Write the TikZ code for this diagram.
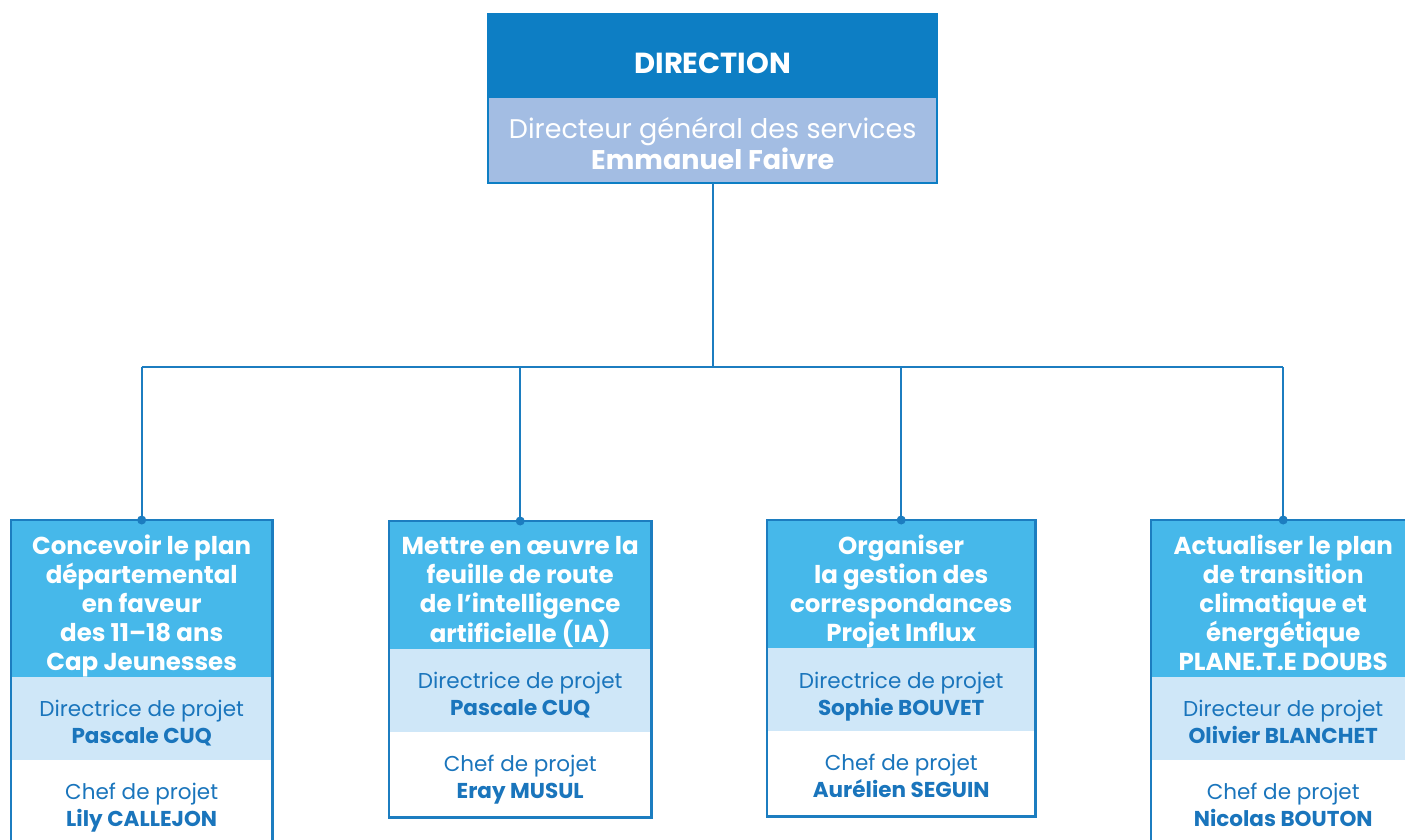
\documentclass[tikz,border=0pt]{standalone}
\usepackage{fontspec}
\setmainfont{Poppins}
\definecolor{darkB}{HTML}{0D7EC4}
\definecolor{paleB}{HTML}{A3BDE3}
\definecolor{cyanB}{HTML}{46B8EA}
\definecolor{lightB}{HTML}{CFE7F8}
\definecolor{textB}{HTML}{1A75BC}
\definecolor{lineB}{HTML}{1C7DC0}
\begin{document}
\begin{tikzpicture}[x=1pt,y=-1pt,
  band/.style={rectangle, inner sep=0pt, anchor=north west},
  txt/.style={inner sep=0pt, align=center},
  dirtxt/.style={txt, text=white, font=\fontsize{29}{31}\selectfont\bfseries, yshift=-7pt},
  dgstxt/.style={txt, text=white, font=\fontsize{27}{31}\selectfont, yshift=-3pt},
  hdrtxt/.style={txt, text=white, font=\fontsize{24.5}{29}\selectfont\bfseries, yshift=-7pt},
  subtxt/.style={txt, text=textB, font=\fontsize{21.5}{27}\selectfont, yshift=-4.5pt},
  lowtxt/.style={txt, text=textB, font=\fontsize{21.5}{27}\selectfont, yshift=-5pt},
  frame/.style={draw=lineB, line width=2.2pt},
  conn/.style={draw=lineB, line width=2pt},
  dot/.style={fill=lineB}
]
\useasboundingbox (0,0) rectangle (1405,839);
\clip (0,0) rectangle (1405,839);
% top box
\node[band, fill=darkB, minimum width=449pt, minimum height=84pt] (dir) at (488,14) {};
\node[band, fill=paleB, minimum width=449pt, minimum height=85pt] (dgs) at (488,98) {};
\draw[draw=darkB, line width=2pt] (dir.north west) rectangle (dgs.south east);
\node[dirtxt] (dirT) at (dir.center) {DIRECTION};
\node[dgstxt] (dgsT) at (dgs.center) {Directeur général des services\\\textbf{Emmanuel Faivre}};
% box 1
\node[band, fill=cyanB, minimum width=261pt, minimum height=157pt] (h1) at (11,520) {};
\node[band, fill=lightB, minimum width=261pt, minimum height=83pt] (s1) at (11,677) {};
\node[band, fill=white, minimum width=261pt, minimum height=85pt] (w1) at (11,760) {};
\draw[frame] (h1.north west) rectangle (w1.south east);
\node[hdrtxt] (h1T) at (h1.center) {Concevoir le plan\\départemental\\en faveur\\des 11–18 ans\\Cap Jeunesses};
\node[subtxt] (s1T) at (s1.center) {Directrice de projet\\\textbf{Pascale CUQ}};
\node[lowtxt] (w1T) at (w1.center) {Chef de projet\\\textbf{Lily CALLEJON}};
% box 2
\node[band, fill=cyanB, minimum width=262pt, minimum height=128pt] (h2) at (389,521) {};
\node[band, fill=lightB, minimum width=262pt, minimum height=83pt] (s2) at (389,649) {};
\node[band, fill=white, minimum width=262pt, minimum height=85pt] (w2) at (389,732) {};
\draw[frame] (h2.north west) rectangle (w2.south east);
\node[hdrtxt] (h2T) at (h2.center) {Mettre en œuvre la\\feuille de route\\de l’intelligence\\artificielle (IA)};
\node[subtxt] (s2T) at (s2.center) {Directrice de projet\\\textbf{Pascale CUQ}};
\node[lowtxt] (w2T) at (w2.center) {Chef de projet\\\textbf{Eray MUSUL}};
% box 3
\node[band, fill=cyanB, minimum width=268pt, minimum height=128pt] (h3) at (767,520) {};
\node[band, fill=lightB, minimum width=268pt, minimum height=83pt] (s3) at (767,648) {};
\node[band, fill=white, minimum width=268pt, minimum height=85pt] (w3) at (767,731) {};
\draw[frame] (h3.north west) rectangle (w3.south east);
\node[hdrtxt] (h3T) at (h3.center) {Organiser\\la gestion des\\correspondances\\Projet Influx};
\node[subtxt, yshift=-2pt] (s3T) at (s3.center) {Directrice de projet\\\textbf{Sophie BOUVET}};
\node[lowtxt, yshift=2.5pt] (w3T) at (w3.center) {Chef de projet\\\textbf{Aurélien SEGUIN}};
% box 4
\node[band, fill=cyanB, minimum width=264pt, minimum height=157pt] (h4) at (1151,520) {};
\node[band, fill=lightB, minimum width=264pt, minimum height=83pt] (s4) at (1151,677) {};
\node[band, fill=white, minimum width=264pt, minimum height=85pt] (w4) at (1151,760) {};
\draw[frame] (h4.north west) rectangle (w4.south east);
\node[hdrtxt, yshift=3pt] (h4T) at (h4.center) {Actualiser le plan\\de transition\\climatique et\\énergétique\\PLANE.T.E DOUBS};
\node[subtxt, yshift=1pt] (s4T) at (s4.center) {Directeur de projet\\\textbf{Olivier BLANCHET}};
\node[lowtxt, yshift=3pt] (w4T) at (w4.center) {Chef de projet\\\textbf{Nicolas BOUTON}};
% connectors
\coordinate (bus) at (712,367);
\draw[conn] (dgs.south) -- (dgs.south |- bus);
\draw[conn] (h1.north |- bus) -- (h4.north |- bus);
\draw[conn] (h1.north |- bus) -- (h1.north);
\draw[conn] (h2.north |- bus) -- (h2.north);
\draw[conn] (h3.north |- bus) -- (h3.north);
\draw[conn] (h4.north |- bus) -- (h4.north);
\foreach \n in {h1,h2,h3,h4} \fill[dot] (\n.north) circle (4.5pt);
\end{tikzpicture}
\end{document}
